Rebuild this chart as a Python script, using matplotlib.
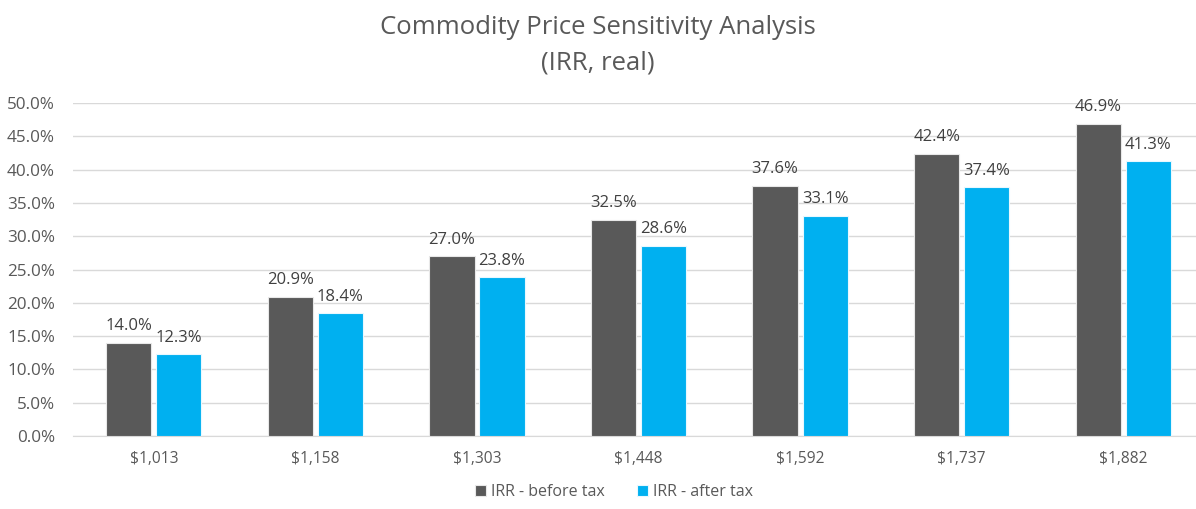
import matplotlib.pyplot as plt
import numpy as np

plt.rcParams['font.family'] = ['Open Sans', 'DejaVu Sans']

# Données
prix = ['$1,013', '$1,158', '$1,303', '$1,448', '$1,592', '$1,737', '$1,882']
irr_avant_impot = [14.0, 20.9, 27.0, 32.5, 37.6, 42.4, 46.9]
irr_apres_impot = [12.3, 18.4, 23.8, 28.6, 33.1, 37.4, 41.3]
series = ['IRR - before tax', 'IRR - after tax']

gris_texte = '#595959'

fig = plt.figure(figsize=(11.96, 5.09), dpi=100)
ax = fig.add_axes([73 / 1196, 73 / 509, 1 - 73 / 1196, (436 - 103) / 509])

x = np.arange(len(prix))
largeur = 0.28
decal = 0.155

b1 = ax.bar(x - decal, irr_avant_impot, largeur, color='#595959', edgecolor='#e8e8e8',
            linewidth=0.8, label=series[0], zorder=3)
b2 = ax.bar(x + decal, irr_apres_impot, largeur, color='#00b0f0', edgecolor='#e8f8ff',
            linewidth=0.8, label=series[1], zorder=3)

for barres in (b1, b2):
    for b in barres:
        h = b.get_height()
        ax.annotate(f"{h:.1f}%", xy=(b.get_x() + b.get_width() / 2, h),
                    xytext=(0, 6), textcoords='offset points', ha='center', va='bottom',
                    fontsize=12, color='#404040')

ax.set_xlim(-0.5, 6.45)
ax.set_ylim(0, 50)
ax.set_yticks(np.arange(0, 50.1, 5))
ax.set_yticklabels([f"{v:.1f}%" for v in np.arange(0, 50.1, 5)])
ax.set_xticks(x)
ax.set_xticklabels(prix)
ax.tick_params(axis='both', length=0, labelcolor=gris_texte)
ax.tick_params(axis='x', pad=11, labelsize=11.2)
ax.tick_params(axis='y', pad=13, labelsize=12.3)

ax.grid(axis='y', color='#d9d9d9', linewidth=1, zorder=0)
for cote in ['top', 'right', 'left']:
    ax.spines[cote].set_visible(False)
ax.spines['bottom'].set_color('#d9d9d9')

fig.text(0.5, 1 - 27 / 509, "Commodity Price Sensitivity Analysis", ha='center', va='center',
         fontsize=18.5, color=gris_texte)
fig.text(0.5, 1 - 63 / 509, "(IRR, real)", ha='center', va='center',
         fontsize=18.5, color=gris_texte)

fig.legend(loc='center', bbox_to_anchor=(614 / 1196, 1 - 492 / 509), ncol=2, frameon=False,
           fontsize=11.5, labelcolor=gris_texte, handlelength=0.7, handleheight=0.7,
           handletextpad=0.3, columnspacing=2.0)

fig.savefig('out.png', dpi=100)
